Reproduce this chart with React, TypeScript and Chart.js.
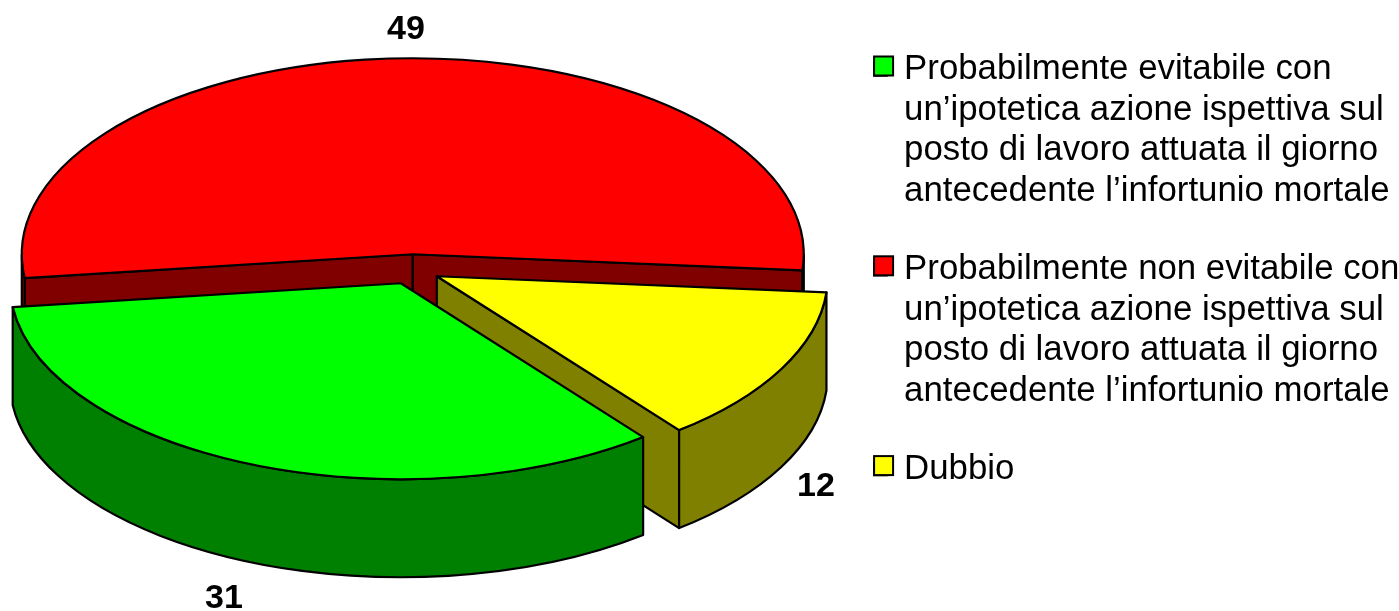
import React, { useEffect, useRef } from "react";
import { Chart, registerables } from "chart.js";

Chart.register(...registerables);

const categories: (string | string[])[] = [
  ["Probabilmente evitabile con", "un’ipotetica azione ispettiva sul", "posto di lavoro attuata il giorno", "antecedente l’infortunio mortale"],
  ["Probabilmente non evitabile con", "un’ipotetica azione ispettiva sul", "posto di lavoro attuata il giorno", "antecedente l’infortunio mortale"],
  "Dubbio",
];
const values = [31, 49, 12];
const topColors = ["#00FF00", "#FF0000", "#FFFF00"];
const wallColors = ["#008000", "#800000", "#808000"];

// 3D projection styling
const RX = 391;
const RY = 196;
const DEPTH = 98;
const sliceShift = [
  { x: -17.75, y: -29.75 },
  { x: -5.75, y: -58.75 },
  { x: 18.25, y: -36.75 },
];
const labelPos = [
  { x: 224, y: 598.5 },
  { x: 406, y: 30 },
  { x: 816, y: 487 },
];
const FONT = '"Liberation Sans", Arial, sans-serif';

const pie3d = {
  id: "pie3d",
  afterLayout(chart: any) {
    // let the longest legend line use the full width up to the page edge
    chart.legend.right = chart.width;
  },
  beforeDatasetDraw(chart: any, args: any) {
    const ctx: CanvasRenderingContext2D = chart.ctx;
    const arcs = args.meta.data;
    const order = arcs.map((_: any, i: number) => i).sort((a: number, b: number) => sliceShift[a].y - sliceShift[b].y);
    ctx.save();
    ctx.lineWidth = 2.2;
    ctx.strokeStyle = "#000";
    ctx.lineJoin = "round";
    for (const i of order) {
      const arc = arcs[i];
      const cx = arc.x + sliceShift[i].x;
      const cy = arc.y + sliceShift[i].y;
      const a0 = arc.startAngle;
      const a1 = arc.endAngle;
      const face = (a: number) => {
        const px = cx + Math.cos(a) * RX;
        const py = cy + Math.sin(a) * RY;
        ctx.beginPath();
        ctx.moveTo(cx, cy);
        ctx.lineTo(px, py);
        ctx.lineTo(px, py + DEPTH);
        ctx.lineTo(cx, cy + DEPTH);
        ctx.closePath();
        ctx.fillStyle = wallColors[i];
        ctx.fill();
        ctx.stroke();
      };
      if (Math.cos(a0) < 0) face(a0);
      if (Math.cos(a1) > 0) face(a1);
      for (let k = -1; k <= 2; k++) {
        const s = Math.max(a0, 2 * Math.PI * k);
        const e = Math.min(a1, 2 * Math.PI * k + Math.PI);
        if (e <= s) continue;
        ctx.beginPath();
        ctx.ellipse(cx, cy, RX, RY, 0, s, e);
        ctx.ellipse(cx, cy + DEPTH, RX, RY, 0, e, s, true);
        ctx.closePath();
        ctx.fillStyle = wallColors[i];
        ctx.fill();
        ctx.stroke();
      }
      ctx.beginPath();
      ctx.moveTo(cx, cy);
      ctx.ellipse(cx, cy, RX, RY, 0, a0, a1);
      ctx.closePath();
      ctx.fillStyle = topColors[i];
      ctx.fill();
      ctx.stroke();
    }
    ctx.fillStyle = "#000";
    ctx.font = `bold 34px ${FONT}`;
    ctx.textAlign = "center";
    ctx.textBaseline = "middle";
    values.forEach((v, i) => ctx.fillText(String(v), labelPos[i].x, labelPos[i].y));
    ctx.restore();
    return false;
  },
  afterDraw(chart: any) {
    const ctx: CanvasRenderingContext2D = chart.ctx;
    const boxes = chart.legend.legendHitBoxes;
    ctx.save();
    ctx.lineWidth = 2;
    ctx.strokeStyle = "#000";
    boxes.forEach((b: any, i: number) => {
      const top = b.top + 4.5;
      ctx.fillStyle = topColors[i];
      ctx.fillRect(b.left, top, 19, 19);
      ctx.strokeRect(b.left, top, 19, 19);
    });
    ctx.restore();
  },
};

export default function App() {
  const ref = useRef<HTMLCanvasElement>(null);
  useEffect(() => {
    const chart = new Chart(ref.current!, {
      type: "pie",
      data: {
        labels: categories as any,
        datasets: [
          {
            data: values,
            backgroundColor: topColors,
            borderColor: "#000",
            borderWidth: 2,
          },
        ],
      },
      options: {
        responsive: false,
        animation: false,
        rotation: 141.7,
        layout: { padding: { top: 15, bottom: 0, right: 11 } },
        plugins: {
          tooltip: { enabled: false },
          legend: {
            position: "right",
            align: "start",
            maxWidth: 562,
            labels: {
              color: "#000",
              boxWidth: 12.6,
              boxHeight: 12.6,
              padding: 37,
              font: { family: FONT, size: 34.8, lineHeight: "40.7px" },
            },
          },
        },
      },
      plugins: [pie3d],
    } as any);
    return () => chart.destroy();
  }, []);
  return (
    <div style={{ position: "absolute", left: 0, top: 0, width: 1399, height: 611, overflow: "hidden", background: "#fff" }}>
      <canvas ref={ref} width={1399} height={611} style={{ display: "block" }} />
    </div>
  );
}
